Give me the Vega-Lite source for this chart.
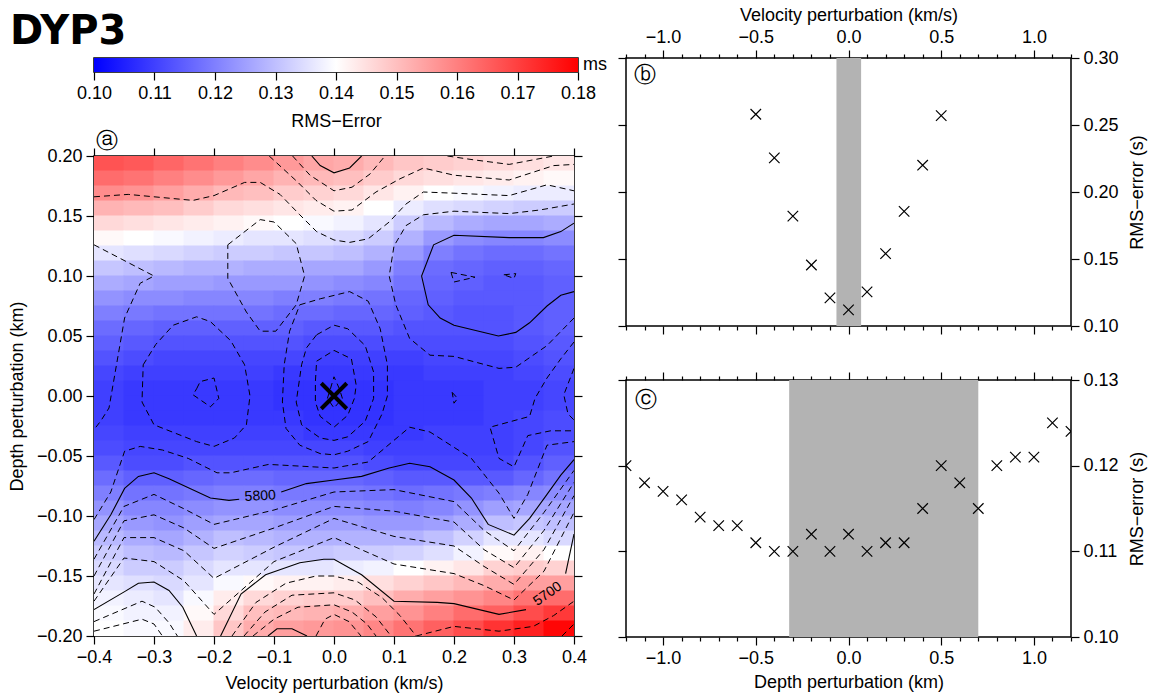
{
"$schema":"https://vega.github.io/schema/vega-lite/v6.json",
"background":"white",
"padding":{"left":7,"top":5,"right":5,"bottom":5},
"config":{"font":"Liberation Sans","view":{"stroke":"black","strokeWidth":1.5},
"axis":{"labelFont":"Liberation Sans","labelFontSize":18,"labelColor":"black","titleFont":"Liberation Sans","titleFontSize":18,"titleFontWeight":"normal","titleColor":"black","tickColor":"black","tickSize":8,"tickWidth":1.2,"domain":false,"grid":false,"labelFlush":false,"labelOverlap":false,"labelPadding":4,"labelBound":false}},
"datasets":{
"cbar":[{"lo":0.10,"hi":0.18,"unit":"ms"}],
"grid":[
{"v":-0.375,"d":0.19375,"rms":0.167},{"v":-0.325,"d":0.19375,"rms":0.166},{"v":-0.275,"d":0.19375,"rms":0.164},{"v":-0.225,"d":0.19375,"rms":0.162},{"v":-0.175,"d":0.19375,"rms":0.160},{"v":-0.125,"d":0.19375,"rms":0.158},{"v":-0.075,"d":0.19375,"rms":0.156},{"v":-0.025,"d":0.19375,"rms":0.154},{"v":0.025,"d":0.19375,"rms":0.153},{"v":0.075,"d":0.19375,"rms":0.151},{"v":0.125,"d":0.19375,"rms":0.149},{"v":0.175,"d":0.19375,"rms":0.148},{"v":0.225,"d":0.19375,"rms":0.147},{"v":0.275,"d":0.19375,"rms":0.146},{"v":0.325,"d":0.19375,"rms":0.145},{"v":0.375,"d":0.19375,"rms":0.144},
{"v":-0.375,"d":0.18125,"rms":0.163},{"v":-0.325,"d":0.18125,"rms":0.162},{"v":-0.275,"d":0.18125,"rms":0.160},{"v":-0.225,"d":0.18125,"rms":0.158},{"v":-0.175,"d":0.18125,"rms":0.156},{"v":-0.125,"d":0.18125,"rms":0.154},{"v":-0.075,"d":0.18125,"rms":0.152},{"v":-0.025,"d":0.18125,"rms":0.151},{"v":0.025,"d":0.18125,"rms":0.150},{"v":0.075,"d":0.18125,"rms":0.148},{"v":0.125,"d":0.18125,"rms":0.146},{"v":0.175,"d":0.18125,"rms":0.145},{"v":0.225,"d":0.18125,"rms":0.144},{"v":0.275,"d":0.18125,"rms":0.143},{"v":0.325,"d":0.18125,"rms":0.142},{"v":0.375,"d":0.18125,"rms":0.141},
{"v":-0.375,"d":0.16875,"rms":0.158},{"v":-0.325,"d":0.16875,"rms":0.157},{"v":-0.275,"d":0.16875,"rms":0.155},{"v":-0.225,"d":0.16875,"rms":0.153},{"v":-0.175,"d":0.16875,"rms":0.151},{"v":-0.125,"d":0.16875,"rms":0.150},{"v":-0.075,"d":0.16875,"rms":0.148},{"v":-0.025,"d":0.16875,"rms":0.147},{"v":0.025,"d":0.16875,"rms":0.146},{"v":0.075,"d":0.16875,"rms":0.144},{"v":0.125,"d":0.16875,"rms":0.142},{"v":0.175,"d":0.16875,"rms":0.140},{"v":0.225,"d":0.16875,"rms":0.139},{"v":0.275,"d":0.16875,"rms":0.138},{"v":0.325,"d":0.16875,"rms":0.137},{"v":0.375,"d":0.16875,"rms":0.137},
{"v":-0.375,"d":0.15625,"rms":0.152},{"v":-0.325,"d":0.15625,"rms":0.151},{"v":-0.275,"d":0.15625,"rms":0.150},{"v":-0.225,"d":0.15625,"rms":0.148},{"v":-0.175,"d":0.15625,"rms":0.146},{"v":-0.125,"d":0.15625,"rms":0.145},{"v":-0.075,"d":0.15625,"rms":0.144},{"v":-0.025,"d":0.15625,"rms":0.143},{"v":0.025,"d":0.15625,"rms":0.142},{"v":0.075,"d":0.15625,"rms":0.140},{"v":0.125,"d":0.15625,"rms":0.137},{"v":0.175,"d":0.15625,"rms":0.135},{"v":0.225,"d":0.15625,"rms":0.134},{"v":0.275,"d":0.15625,"rms":0.133},{"v":0.325,"d":0.15625,"rms":0.132},{"v":0.375,"d":0.15625,"rms":0.132},
{"v":-0.375,"d":0.14375,"rms":0.146},{"v":-0.325,"d":0.14375,"rms":0.145},{"v":-0.275,"d":0.14375,"rms":0.144},{"v":-0.225,"d":0.14375,"rms":0.143},{"v":-0.175,"d":0.14375,"rms":0.142},{"v":-0.125,"d":0.14375,"rms":0.141},{"v":-0.075,"d":0.14375,"rms":0.140},{"v":-0.025,"d":0.14375,"rms":0.139},{"v":0.025,"d":0.14375,"rms":0.138},{"v":0.075,"d":0.14375,"rms":0.136},{"v":0.125,"d":0.14375,"rms":0.132},{"v":0.175,"d":0.14375,"rms":0.129},{"v":0.225,"d":0.14375,"rms":0.127},{"v":0.275,"d":0.14375,"rms":0.126},{"v":0.325,"d":0.14375,"rms":0.126},{"v":0.375,"d":0.14375,"rms":0.127},
{"v":-0.375,"d":0.13125,"rms":0.141},{"v":-0.325,"d":0.13125,"rms":0.140},{"v":-0.275,"d":0.13125,"rms":0.139},{"v":-0.225,"d":0.13125,"rms":0.138},{"v":-0.175,"d":0.13125,"rms":0.137},{"v":-0.125,"d":0.13125,"rms":0.136},{"v":-0.075,"d":0.13125,"rms":0.136},{"v":-0.025,"d":0.13125,"rms":0.135},{"v":0.025,"d":0.13125,"rms":0.134},{"v":0.075,"d":0.13125,"rms":0.132},{"v":0.125,"d":0.13125,"rms":0.128},{"v":0.175,"d":0.13125,"rms":0.124},{"v":0.225,"d":0.13125,"rms":0.122},{"v":0.275,"d":0.13125,"rms":0.121},{"v":0.325,"d":0.13125,"rms":0.121},{"v":0.375,"d":0.13125,"rms":0.122},
{"v":-0.375,"d":0.11875,"rms":0.136},{"v":-0.325,"d":0.11875,"rms":0.135},{"v":-0.275,"d":0.11875,"rms":0.134},{"v":-0.225,"d":0.11875,"rms":0.133},{"v":-0.175,"d":0.11875,"rms":0.132},{"v":-0.125,"d":0.11875,"rms":0.132},{"v":-0.075,"d":0.11875,"rms":0.131},{"v":-0.025,"d":0.11875,"rms":0.131},{"v":0.025,"d":0.11875,"rms":0.130},{"v":0.075,"d":0.11875,"rms":0.128},{"v":0.125,"d":0.11875,"rms":0.124},{"v":0.175,"d":0.11875,"rms":0.120},{"v":0.225,"d":0.11875,"rms":0.118},{"v":0.275,"d":0.11875,"rms":0.117},{"v":0.325,"d":0.11875,"rms":0.117},{"v":0.375,"d":0.11875,"rms":0.118},
{"v":-0.375,"d":0.10625,"rms":0.131},{"v":-0.325,"d":0.10625,"rms":0.130},{"v":-0.275,"d":0.10625,"rms":0.129},{"v":-0.225,"d":0.10625,"rms":0.128},{"v":-0.175,"d":0.10625,"rms":0.128},{"v":-0.125,"d":0.10625,"rms":0.127},{"v":-0.075,"d":0.10625,"rms":0.127},{"v":-0.025,"d":0.10625,"rms":0.126},{"v":0.025,"d":0.10625,"rms":0.126},{"v":0.075,"d":0.10625,"rms":0.124},{"v":0.125,"d":0.10625,"rms":0.120},{"v":0.175,"d":0.10625,"rms":0.117},{"v":0.225,"d":0.10625,"rms":0.116},{"v":0.275,"d":0.10625,"rms":0.115},{"v":0.325,"d":0.10625,"rms":0.115},{"v":0.375,"d":0.10625,"rms":0.116},
{"v":-0.375,"d":0.09375,"rms":0.127},{"v":-0.325,"d":0.09375,"rms":0.126},{"v":-0.275,"d":0.09375,"rms":0.125},{"v":-0.225,"d":0.09375,"rms":0.125},{"v":-0.175,"d":0.09375,"rms":0.124},{"v":-0.125,"d":0.09375,"rms":0.124},{"v":-0.075,"d":0.09375,"rms":0.124},{"v":-0.025,"d":0.09375,"rms":0.123},{"v":0.025,"d":0.09375,"rms":0.122},{"v":0.075,"d":0.09375,"rms":0.121},{"v":0.125,"d":0.09375,"rms":0.118},{"v":0.175,"d":0.09375,"rms":0.116},{"v":0.225,"d":0.09375,"rms":0.115},{"v":0.275,"d":0.09375,"rms":0.114},{"v":0.325,"d":0.09375,"rms":0.114},{"v":0.375,"d":0.09375,"rms":0.115},
{"v":-0.375,"d":0.08125,"rms":0.123},{"v":-0.325,"d":0.08125,"rms":0.122},{"v":-0.275,"d":0.08125,"rms":0.122},{"v":-0.225,"d":0.08125,"rms":0.121},{"v":-0.175,"d":0.08125,"rms":0.121},{"v":-0.125,"d":0.08125,"rms":0.121},{"v":-0.075,"d":0.08125,"rms":0.120},{"v":-0.025,"d":0.08125,"rms":0.120},{"v":0.025,"d":0.08125,"rms":0.119},{"v":0.075,"d":0.08125,"rms":0.118},{"v":0.125,"d":0.08125,"rms":0.116},{"v":0.175,"d":0.08125,"rms":0.115},{"v":0.225,"d":0.08125,"rms":0.114},{"v":0.275,"d":0.08125,"rms":0.114},{"v":0.325,"d":0.08125,"rms":0.114},{"v":0.375,"d":0.08125,"rms":0.115},
{"v":-0.375,"d":0.06875,"rms":0.120},{"v":-0.325,"d":0.06875,"rms":0.119},{"v":-0.275,"d":0.06875,"rms":0.118},{"v":-0.225,"d":0.06875,"rms":0.118},{"v":-0.175,"d":0.06875,"rms":0.118},{"v":-0.125,"d":0.06875,"rms":0.118},{"v":-0.075,"d":0.06875,"rms":0.117},{"v":-0.025,"d":0.06875,"rms":0.117},{"v":0.025,"d":0.06875,"rms":0.116},{"v":0.075,"d":0.06875,"rms":0.116},{"v":0.125,"d":0.06875,"rms":0.115},{"v":0.175,"d":0.06875,"rms":0.114},{"v":0.225,"d":0.06875,"rms":0.113},{"v":0.275,"d":0.06875,"rms":0.113},{"v":0.325,"d":0.06875,"rms":0.114},{"v":0.375,"d":0.06875,"rms":0.115},
{"v":-0.375,"d":0.05625,"rms":0.117},{"v":-0.325,"d":0.05625,"rms":0.116},{"v":-0.275,"d":0.05625,"rms":0.115},{"v":-0.225,"d":0.05625,"rms":0.115},{"v":-0.175,"d":0.05625,"rms":0.115},{"v":-0.125,"d":0.05625,"rms":0.115},{"v":-0.075,"d":0.05625,"rms":0.115},{"v":-0.025,"d":0.05625,"rms":0.114},{"v":0.025,"d":0.05625,"rms":0.114},{"v":0.075,"d":0.05625,"rms":0.114},{"v":0.125,"d":0.05625,"rms":0.113},{"v":0.175,"d":0.05625,"rms":0.113},{"v":0.225,"d":0.05625,"rms":0.113},{"v":0.275,"d":0.05625,"rms":0.113},{"v":0.325,"d":0.05625,"rms":0.114},{"v":0.375,"d":0.05625,"rms":0.115},
{"v":-0.375,"d":0.04375,"rms":0.115},{"v":-0.325,"d":0.04375,"rms":0.114},{"v":-0.275,"d":0.04375,"rms":0.113},{"v":-0.225,"d":0.04375,"rms":0.113},{"v":-0.175,"d":0.04375,"rms":0.113},{"v":-0.125,"d":0.04375,"rms":0.113},{"v":-0.075,"d":0.04375,"rms":0.113},{"v":-0.025,"d":0.04375,"rms":0.112},{"v":0.025,"d":0.04375,"rms":0.112},{"v":0.075,"d":0.04375,"rms":0.112},{"v":0.125,"d":0.04375,"rms":0.112},{"v":0.175,"d":0.04375,"rms":0.112},{"v":0.225,"d":0.04375,"rms":0.112},{"v":0.275,"d":0.04375,"rms":0.112},{"v":0.325,"d":0.04375,"rms":0.113},{"v":0.375,"d":0.04375,"rms":0.114},
{"v":-0.375,"d":0.03125,"rms":0.113},{"v":-0.325,"d":0.03125,"rms":0.112},{"v":-0.275,"d":0.03125,"rms":0.111},{"v":-0.225,"d":0.03125,"rms":0.111},{"v":-0.175,"d":0.03125,"rms":0.111},{"v":-0.125,"d":0.03125,"rms":0.111},{"v":-0.075,"d":0.03125,"rms":0.111},{"v":-0.025,"d":0.03125,"rms":0.110},{"v":0.025,"d":0.03125,"rms":0.110},{"v":0.075,"d":0.03125,"rms":0.110},{"v":0.125,"d":0.03125,"rms":0.110},{"v":0.175,"d":0.03125,"rms":0.111},{"v":0.225,"d":0.03125,"rms":0.111},{"v":0.275,"d":0.03125,"rms":0.111},{"v":0.325,"d":0.03125,"rms":0.112},{"v":0.375,"d":0.03125,"rms":0.113},
{"v":-0.375,"d":0.01875,"rms":0.111},{"v":-0.325,"d":0.01875,"rms":0.110},{"v":-0.275,"d":0.01875,"rms":0.110},{"v":-0.225,"d":0.01875,"rms":0.110},{"v":-0.175,"d":0.01875,"rms":0.110},{"v":-0.125,"d":0.01875,"rms":0.110},{"v":-0.075,"d":0.01875,"rms":0.109},{"v":-0.025,"d":0.01875,"rms":0.109},{"v":0.025,"d":0.01875,"rms":0.109},{"v":0.075,"d":0.01875,"rms":0.109},{"v":0.125,"d":0.01875,"rms":0.109},{"v":0.175,"d":0.01875,"rms":0.110},{"v":0.225,"d":0.01875,"rms":0.110},{"v":0.275,"d":0.01875,"rms":0.110},{"v":0.325,"d":0.01875,"rms":0.111},{"v":0.375,"d":0.01875,"rms":0.112},
{"v":-0.375,"d":0.00625,"rms":0.110},{"v":-0.325,"d":0.00625,"rms":0.109},{"v":-0.275,"d":0.00625,"rms":0.109},{"v":-0.225,"d":0.00625,"rms":0.109},{"v":-0.175,"d":0.00625,"rms":0.109},{"v":-0.125,"d":0.00625,"rms":0.109},{"v":-0.075,"d":0.00625,"rms":0.108},{"v":-0.025,"d":0.00625,"rms":0.108},{"v":0.025,"d":0.00625,"rms":0.108},{"v":0.075,"d":0.00625,"rms":0.108},{"v":0.125,"d":0.00625,"rms":0.109},{"v":0.175,"d":0.00625,"rms":0.109},{"v":0.225,"d":0.00625,"rms":0.109},{"v":0.275,"d":0.00625,"rms":0.110},{"v":0.325,"d":0.00625,"rms":0.110},{"v":0.375,"d":0.00625,"rms":0.111},
{"v":-0.375,"d":-0.00625,"rms":0.110},{"v":-0.325,"d":-0.00625,"rms":0.109},{"v":-0.275,"d":-0.00625,"rms":0.109},{"v":-0.225,"d":-0.00625,"rms":0.109},{"v":-0.175,"d":-0.00625,"rms":0.109},{"v":-0.125,"d":-0.00625,"rms":0.109},{"v":-0.075,"d":-0.00625,"rms":0.108},{"v":-0.025,"d":-0.00625,"rms":0.108},{"v":0.025,"d":-0.00625,"rms":0.108},{"v":0.075,"d":-0.00625,"rms":0.108},{"v":0.125,"d":-0.00625,"rms":0.109},{"v":0.175,"d":-0.00625,"rms":0.109},{"v":0.225,"d":-0.00625,"rms":0.109},{"v":0.275,"d":-0.00625,"rms":0.110},{"v":0.325,"d":-0.00625,"rms":0.110},{"v":0.375,"d":-0.00625,"rms":0.111},
{"v":-0.375,"d":-0.01875,"rms":0.110},{"v":-0.325,"d":-0.01875,"rms":0.109},{"v":-0.275,"d":-0.01875,"rms":0.109},{"v":-0.225,"d":-0.01875,"rms":0.109},{"v":-0.175,"d":-0.01875,"rms":0.109},{"v":-0.125,"d":-0.01875,"rms":0.109},{"v":-0.075,"d":-0.01875,"rms":0.109},{"v":-0.025,"d":-0.01875,"rms":0.108},{"v":0.025,"d":-0.01875,"rms":0.108},{"v":0.075,"d":-0.01875,"rms":0.108},{"v":0.125,"d":-0.01875,"rms":0.109},{"v":0.175,"d":-0.01875,"rms":0.109},{"v":0.225,"d":-0.01875,"rms":0.109},{"v":0.275,"d":-0.01875,"rms":0.110},{"v":0.325,"d":-0.01875,"rms":0.111},{"v":0.375,"d":-0.01875,"rms":0.112},
{"v":-0.375,"d":-0.03125,"rms":0.111},{"v":-0.325,"d":-0.03125,"rms":0.110},{"v":-0.275,"d":-0.03125,"rms":0.110},{"v":-0.225,"d":-0.03125,"rms":0.110},{"v":-0.175,"d":-0.03125,"rms":0.110},{"v":-0.125,"d":-0.03125,"rms":0.110},{"v":-0.075,"d":-0.03125,"rms":0.110},{"v":-0.025,"d":-0.03125,"rms":0.109},{"v":0.025,"d":-0.03125,"rms":0.109},{"v":0.075,"d":-0.03125,"rms":0.109},{"v":0.125,"d":-0.03125,"rms":0.109},{"v":0.175,"d":-0.03125,"rms":0.110},{"v":0.225,"d":-0.03125,"rms":0.110},{"v":0.275,"d":-0.03125,"rms":0.110},{"v":0.325,"d":-0.03125,"rms":0.111},{"v":0.375,"d":-0.03125,"rms":0.112},
{"v":-0.375,"d":-0.04375,"rms":0.112},{"v":-0.325,"d":-0.04375,"rms":0.111},{"v":-0.275,"d":-0.04375,"rms":0.111},{"v":-0.225,"d":-0.04375,"rms":0.111},{"v":-0.175,"d":-0.04375,"rms":0.111},{"v":-0.125,"d":-0.04375,"rms":0.111},{"v":-0.075,"d":-0.04375,"rms":0.111},{"v":-0.025,"d":-0.04375,"rms":0.111},{"v":0.025,"d":-0.04375,"rms":0.111},{"v":0.075,"d":-0.04375,"rms":0.110},{"v":0.125,"d":-0.04375,"rms":0.110},{"v":0.175,"d":-0.04375,"rms":0.110},{"v":0.225,"d":-0.04375,"rms":0.110},{"v":0.275,"d":-0.04375,"rms":0.110},{"v":0.325,"d":-0.04375,"rms":0.111},{"v":0.375,"d":-0.04375,"rms":0.113},
{"v":-0.375,"d":-0.05625,"rms":0.114},{"v":-0.325,"d":-0.05625,"rms":0.112},{"v":-0.275,"d":-0.05625,"rms":0.112},{"v":-0.225,"d":-0.05625,"rms":0.113},{"v":-0.175,"d":-0.05625,"rms":0.113},{"v":-0.125,"d":-0.05625,"rms":0.113},{"v":-0.075,"d":-0.05625,"rms":0.113},{"v":-0.025,"d":-0.05625,"rms":0.113},{"v":0.025,"d":-0.05625,"rms":0.113},{"v":0.075,"d":-0.05625,"rms":0.112},{"v":0.125,"d":-0.05625,"rms":0.111},{"v":0.175,"d":-0.05625,"rms":0.111},{"v":0.225,"d":-0.05625,"rms":0.111},{"v":0.275,"d":-0.05625,"rms":0.111},{"v":0.325,"d":-0.05625,"rms":0.113},{"v":0.375,"d":-0.05625,"rms":0.115},
{"v":-0.375,"d":-0.06875,"rms":0.117},{"v":-0.325,"d":-0.06875,"rms":0.115},{"v":-0.275,"d":-0.06875,"rms":0.115},{"v":-0.225,"d":-0.06875,"rms":0.116},{"v":-0.175,"d":-0.06875,"rms":0.117},{"v":-0.125,"d":-0.06875,"rms":0.117},{"v":-0.075,"d":-0.06875,"rms":0.116},{"v":-0.025,"d":-0.06875,"rms":0.116},{"v":0.025,"d":-0.06875,"rms":0.116},{"v":0.075,"d":-0.06875,"rms":0.115},{"v":0.125,"d":-0.06875,"rms":0.114},{"v":0.175,"d":-0.06875,"rms":0.114},{"v":0.225,"d":-0.06875,"rms":0.114},{"v":0.275,"d":-0.06875,"rms":0.114},{"v":0.325,"d":-0.06875,"rms":0.116},{"v":0.375,"d":-0.06875,"rms":0.118},
{"v":-0.375,"d":-0.08125,"rms":0.120},{"v":-0.325,"d":-0.08125,"rms":0.118},{"v":-0.275,"d":-0.08125,"rms":0.118},{"v":-0.225,"d":-0.08125,"rms":0.119},{"v":-0.175,"d":-0.08125,"rms":0.120},{"v":-0.125,"d":-0.08125,"rms":0.120},{"v":-0.075,"d":-0.08125,"rms":0.119},{"v":-0.025,"d":-0.08125,"rms":0.119},{"v":0.025,"d":-0.08125,"rms":0.119},{"v":0.075,"d":-0.08125,"rms":0.118},{"v":0.125,"d":-0.08125,"rms":0.117},{"v":0.175,"d":-0.08125,"rms":0.118},{"v":0.225,"d":-0.08125,"rms":0.119},{"v":0.275,"d":-0.08125,"rms":0.120},{"v":0.325,"d":-0.08125,"rms":0.121},{"v":0.375,"d":-0.08125,"rms":0.122},
{"v":-0.375,"d":-0.09375,"rms":0.123},{"v":-0.325,"d":-0.09375,"rms":0.121},{"v":-0.275,"d":-0.09375,"rms":0.121},{"v":-0.225,"d":-0.09375,"rms":0.122},{"v":-0.175,"d":-0.09375,"rms":0.123},{"v":-0.125,"d":-0.09375,"rms":0.123},{"v":-0.075,"d":-0.09375,"rms":0.122},{"v":-0.025,"d":-0.09375,"rms":0.122},{"v":0.025,"d":-0.09375,"rms":0.122},{"v":0.075,"d":-0.09375,"rms":0.121},{"v":0.125,"d":-0.09375,"rms":0.120},{"v":0.175,"d":-0.09375,"rms":0.121},{"v":0.225,"d":-0.09375,"rms":0.123},{"v":0.275,"d":-0.09375,"rms":0.125},{"v":0.325,"d":-0.09375,"rms":0.126},{"v":0.375,"d":-0.09375,"rms":0.126},
{"v":-0.375,"d":-0.10625,"rms":0.126},{"v":-0.325,"d":-0.10625,"rms":0.124},{"v":-0.275,"d":-0.10625,"rms":0.123},{"v":-0.225,"d":-0.10625,"rms":0.125},{"v":-0.175,"d":-0.10625,"rms":0.126},{"v":-0.125,"d":-0.10625,"rms":0.126},{"v":-0.075,"d":-0.10625,"rms":0.125},{"v":-0.025,"d":-0.10625,"rms":0.125},{"v":0.025,"d":-0.10625,"rms":0.125},{"v":0.075,"d":-0.10625,"rms":0.124},{"v":0.125,"d":-0.10625,"rms":0.124},{"v":0.175,"d":-0.10625,"rms":0.125},{"v":0.225,"d":-0.10625,"rms":0.127},{"v":0.275,"d":-0.10625,"rms":0.130},{"v":0.325,"d":-0.10625,"rms":0.131},{"v":0.375,"d":-0.10625,"rms":0.130},
{"v":-0.375,"d":-0.11875,"rms":0.129},{"v":-0.325,"d":-0.11875,"rms":0.127},{"v":-0.275,"d":-0.11875,"rms":0.126},{"v":-0.225,"d":-0.11875,"rms":0.128},{"v":-0.175,"d":-0.11875,"rms":0.130},{"v":-0.125,"d":-0.11875,"rms":0.129},{"v":-0.075,"d":-0.11875,"rms":0.128},{"v":-0.025,"d":-0.11875,"rms":0.128},{"v":0.025,"d":-0.11875,"rms":0.128},{"v":0.075,"d":-0.11875,"rms":0.128},{"v":0.125,"d":-0.11875,"rms":0.128},{"v":0.175,"d":-0.11875,"rms":0.130},{"v":0.225,"d":-0.11875,"rms":0.133},{"v":0.275,"d":-0.11875,"rms":0.136},{"v":0.325,"d":-0.11875,"rms":0.136},{"v":0.375,"d":-0.11875,"rms":0.134},
{"v":-0.375,"d":-0.13125,"rms":0.132},{"v":-0.325,"d":-0.13125,"rms":0.130},{"v":-0.275,"d":-0.13125,"rms":0.129},{"v":-0.225,"d":-0.13125,"rms":0.131},{"v":-0.175,"d":-0.13125,"rms":0.133},{"v":-0.125,"d":-0.13125,"rms":0.132},{"v":-0.075,"d":-0.13125,"rms":0.131},{"v":-0.025,"d":-0.13125,"rms":0.131},{"v":0.025,"d":-0.13125,"rms":0.132},{"v":0.075,"d":-0.13125,"rms":0.132},{"v":0.125,"d":-0.13125,"rms":0.133},{"v":0.175,"d":-0.13125,"rms":0.135},{"v":0.225,"d":-0.13125,"rms":0.138},{"v":0.275,"d":-0.13125,"rms":0.141},{"v":0.325,"d":-0.13125,"rms":0.142},{"v":0.375,"d":-0.13125,"rms":0.140},
{"v":-0.375,"d":-0.14375,"rms":0.134},{"v":-0.325,"d":-0.14375,"rms":0.132},{"v":-0.275,"d":-0.14375,"rms":0.132},{"v":-0.225,"d":-0.14375,"rms":0.134},{"v":-0.175,"d":-0.14375,"rms":0.136},{"v":-0.125,"d":-0.14375,"rms":0.136},{"v":-0.075,"d":-0.14375,"rms":0.136},{"v":-0.025,"d":-0.14375,"rms":0.136},{"v":0.025,"d":-0.14375,"rms":0.137},{"v":0.075,"d":-0.14375,"rms":0.138},{"v":0.125,"d":-0.14375,"rms":0.140},{"v":0.175,"d":-0.14375,"rms":0.142},{"v":0.225,"d":-0.14375,"rms":0.144},{"v":0.275,"d":-0.14375,"rms":0.147},{"v":0.325,"d":-0.14375,"rms":0.148},{"v":0.375,"d":-0.14375,"rms":0.147},
{"v":-0.375,"d":-0.15625,"rms":0.136},{"v":-0.325,"d":-0.15625,"rms":0.135},{"v":-0.275,"d":-0.15625,"rms":0.134},{"v":-0.225,"d":-0.15625,"rms":0.136},{"v":-0.175,"d":-0.15625,"rms":0.139},{"v":-0.125,"d":-0.15625,"rms":0.141},{"v":-0.075,"d":-0.15625,"rms":0.142},{"v":-0.025,"d":-0.15625,"rms":0.142},{"v":0.025,"d":-0.15625,"rms":0.143},{"v":0.075,"d":-0.15625,"rms":0.145},{"v":0.125,"d":-0.15625,"rms":0.147},{"v":0.175,"d":-0.15625,"rms":0.149},{"v":0.225,"d":-0.15625,"rms":0.151},{"v":0.275,"d":-0.15625,"rms":0.153},{"v":0.325,"d":-0.15625,"rms":0.155},{"v":0.375,"d":-0.15625,"rms":0.155},
{"v":-0.375,"d":-0.16875,"rms":0.138},{"v":-0.325,"d":-0.16875,"rms":0.137},{"v":-0.275,"d":-0.16875,"rms":0.136},{"v":-0.225,"d":-0.16875,"rms":0.139},{"v":-0.175,"d":-0.16875,"rms":0.143},{"v":-0.125,"d":-0.16875,"rms":0.146},{"v":-0.075,"d":-0.16875,"rms":0.147},{"v":-0.025,"d":-0.16875,"rms":0.148},{"v":0.025,"d":-0.16875,"rms":0.148},{"v":0.075,"d":-0.16875,"rms":0.150},{"v":0.125,"d":-0.16875,"rms":0.153},{"v":0.175,"d":-0.16875,"rms":0.155},{"v":0.225,"d":-0.16875,"rms":0.157},{"v":0.275,"d":-0.16875,"rms":0.159},{"v":0.325,"d":-0.16875,"rms":0.162},{"v":0.375,"d":-0.16875,"rms":0.163},
{"v":-0.375,"d":-0.18125,"rms":0.139},{"v":-0.325,"d":-0.18125,"rms":0.138},{"v":-0.275,"d":-0.18125,"rms":0.138},{"v":-0.225,"d":-0.18125,"rms":0.141},{"v":-0.175,"d":-0.18125,"rms":0.146},{"v":-0.125,"d":-0.18125,"rms":0.150},{"v":-0.075,"d":-0.18125,"rms":0.151},{"v":-0.025,"d":-0.18125,"rms":0.152},{"v":0.025,"d":-0.18125,"rms":0.153},{"v":0.075,"d":-0.18125,"rms":0.155},{"v":0.125,"d":-0.18125,"rms":0.157},{"v":0.175,"d":-0.18125,"rms":0.160},{"v":0.225,"d":-0.18125,"rms":0.163},{"v":0.275,"d":-0.18125,"rms":0.165},{"v":0.325,"d":-0.18125,"rms":0.168},{"v":0.375,"d":-0.18125,"rms":0.171},
{"v":-0.375,"d":-0.19375,"rms":0.140},{"v":-0.325,"d":-0.19375,"rms":0.139},{"v":-0.275,"d":-0.19375,"rms":0.139},{"v":-0.225,"d":-0.19375,"rms":0.143},{"v":-0.175,"d":-0.19375,"rms":0.149},{"v":-0.125,"d":-0.19375,"rms":0.153},{"v":-0.075,"d":-0.19375,"rms":0.155},{"v":-0.025,"d":-0.19375,"rms":0.156},{"v":0.025,"d":-0.19375,"rms":0.157},{"v":0.075,"d":-0.19375,"rms":0.159},{"v":0.125,"d":-0.19375,"rms":0.162},{"v":0.175,"d":-0.19375,"rms":0.165},{"v":0.225,"d":-0.19375,"rms":0.168},{"v":0.275,"d":-0.19375,"rms":0.172},{"v":0.325,"d":-0.19375,"rms":0.175},{"v":0.375,"d":-0.19375,"rms":0.179}
],
"cmajor":[
{"c":"T1","v":-0.037,"d":0.2},{"c":"T1","v":-0.023,"d":0.192},{"c":"T1","v":0,"d":0.186},{"c":"T1","v":0.026,"d":0.19},{"c":"T1","v":0.046,"d":0.2},
{"c":"SU","v":0.4,"d":0.144},{"c":"SU","v":0.378,"d":0.137},{"c":"SU","v":0.349,"d":0.132},{"c":"SU","v":0.292,"d":0.132},{"c":"SU","v":0.2,"d":0.134},{"c":"SU","v":0.166,"d":0.126},{"c":"SU","v":0.146,"d":0.1},{"c":"SU","v":0.157,"d":0.076},{"c":"SU","v":0.177,"d":0.065},{"c":"SU","v":0.2,"d":0.059},{"c":"SU","v":0.274,"d":0.05},{"c":"SU","v":0.303,"d":0.053},{"c":"SU","v":0.326,"d":0.061},{"c":"SU","v":0.355,"d":0.075},{"c":"SU","v":0.378,"d":0.084},{"c":"SU","v":0.4,"d":0.087},
{"c":"M58a","v":-0.4,"d":-0.121},{"c":"M58a","v":-0.372,"d":-0.099},{"c":"M58a","v":-0.349,"d":-0.077},{"c":"M58a","v":-0.326,"d":-0.067},{"c":"M58a","v":-0.3,"d":-0.064},{"c":"M58a","v":-0.275,"d":-0.069},{"c":"M58a","v":-0.24,"d":-0.077},{"c":"M58a","v":-0.206,"d":-0.085},{"c":"M58a","v":-0.175,"d":-0.087},{"c":"M58a","v":-0.158,"d":-0.086},
{"c":"M58b","v":-0.088,"d":-0.08},{"c":"M58b","v":-0.046,"d":-0.073},{"c":"M58b","v":0,"d":-0.07},{"c":"M58b","v":0.046,"d":-0.067},{"c":"M58b","v":0.092,"d":-0.06},{"c":"M58b","v":0.126,"d":-0.056},{"c":"M58b","v":0.16,"d":-0.059},{"c":"M58b","v":0.2,"d":-0.07},{"c":"M58b","v":0.229,"d":-0.085},{"c":"M58b","v":0.257,"d":-0.107},{"c":"M58b","v":0.3,"d":-0.116},{"c":"M58b","v":0.326,"d":-0.102},{"c":"M58b","v":0.355,"d":-0.082},{"c":"M58b","v":0.378,"d":-0.066},{"c":"M58b","v":0.4,"d":-0.053},
{"c":"L1","v":-0.4,"d":-0.178},{"c":"L1","v":-0.349,"d":-0.163},{"c":"L1","v":-0.326,"d":-0.156},{"c":"L1","v":-0.3,"d":-0.155},{"c":"L1","v":-0.275,"d":-0.162},{"c":"L1","v":-0.252,"d":-0.176},{"c":"L1","v":-0.229,"d":-0.2},
{"c":"L2a","v":-0.189,"d":-0.2},{"c":"L2a","v":-0.155,"d":-0.165},{"c":"L2a","v":-0.114,"d":-0.149},{"c":"L2a","v":-0.057,"d":-0.139},{"c":"L2a","v":-0.017,"d":-0.136},{"c":"L2a","v":0,"d":-0.136},{"c":"L2a","v":0.046,"d":-0.149},{"c":"L2a","v":0.1,"d":-0.171},{"c":"L2a","v":0.172,"d":-0.172},{"c":"L2a","v":0.2,"d":-0.173},{"c":"L2a","v":0.275,"d":-0.182},{"c":"L2a","v":0.32,"d":-0.178},
{"c":"L2b","v":0.386,"d":-0.148},{"c":"L2b","v":0.4,"d":-0.115},
{"c":"A5","v":-0.11,"d":-0.2},{"c":"A5","v":-0.095,"d":-0.194},{"c":"A5","v":-0.07,"d":-0.194},{"c":"A5","v":-0.045,"d":-0.2}
],
"cminor":[
{"c":"T2","v":-0.069,"d":0.2},{"c":"T2","v":-0.04,"d":0.184},{"c":"T2","v":0,"d":0.171},{"c":"T2","v":0.03,"d":0.174},{"c":"T2","v":0.06,"d":0.185},{"c":"T2","v":0.085,"d":0.2},
{"c":"T3","v":-0.108,"d":0.2},{"c":"T3","v":-0.06,"d":0.178},{"c":"T3","v":-0.03,"d":0.163},{"c":"T3","v":0,"d":0.154},{"c":"T3","v":0.03,"d":0.155},{"c":"T3","v":0.07,"d":0.17},{"c":"T3","v":0.11,"d":0.181},{"c":"T3","v":0.149,"d":0.19},{"c":"T3","v":0.2,"d":0.184},{"c":"T3","v":0.292,"d":0.18},{"c":"T3","v":0.366,"d":0.192},{"c":"T3","v":0.4,"d":0.193},
{"c":"Ta","v":-0.4,"d":0.166},{"c":"Ta","v":-0.343,"d":0.168},{"c":"Ta","v":-0.235,"d":0.163},{"c":"Ta","v":-0.2,"d":0.167},{"c":"Ta","v":-0.149,"d":0.178},{"c":"Ta","v":-0.123,"d":0.178},{"c":"Ta","v":-0.09,"d":0.168},{"c":"Ta","v":-0.057,"d":0.151},{"c":"Ta","v":-0.029,"d":0.137},{"c":"Ta","v":0,"d":0.13},{"c":"Ta","v":0.026,"d":0.128},{"c":"Ta","v":0.057,"d":0.131},{"c":"Ta","v":0.092,"d":0.145},{"c":"Ta","v":0.12,"d":0.16},{"c":"Ta","v":0.149,"d":0.17},{"c":"Ta","v":0.2,"d":0.169},{"c":"Ta","v":0.292,"d":0.167},{"c":"Ta","v":0.355,"d":0.176},{"c":"Ta","v":0.4,"d":0.171},
{"c":"R1","v":0.189,"d":0.2},{"c":"R1","v":0.23,"d":0.197},{"c":"R1","v":0.292,"d":0.193},{"c":"R1","v":0.366,"d":0.2},
{"c":"R4","v":0.4,"d":0.065},{"c":"R4","v":0.355,"d":0.042},{"c":"R4","v":0.303,"d":0.024},{"c":"R4","v":0.275,"d":0.023},{"c":"R4","v":0.2,"d":0.033},{"c":"R4","v":0.16,"d":0.034},{"c":"R4","v":0.126,"d":0.048},{"c":"R4","v":0.103,"d":0.076},{"c":"R4","v":0.092,"d":0.1},{"c":"R4","v":0.1,"d":0.125},{"c":"R4","v":0.12,"d":0.142},{"c":"R4","v":0.149,"d":0.151},{"c":"R4","v":0.2,"d":0.154},{"c":"R4","v":0.292,"d":0.152},{"c":"R4","v":0.343,"d":0.155},{"c":"R4","v":0.4,"d":0.16},
{"c":"Tr1","v":0.195,"d":0.103},{"c":"Tr1","v":0.235,"d":0.099},{"c":"Tr1","v":0.2,"d":0.095},{"c":"Tr1","v":0.195,"d":0.103},
{"c":"Tr2","v":0.283,"d":0.101},{"c":"Tr2","v":0.303,"d":0.102},{"c":"Tr2","v":0.3,"d":0.098},{"c":"Tr2","v":0.283,"d":0.101},
{"c":"Tr3","v":0.197,"d":0.003},{"c":"Tr3","v":0.206,"d":-0.002},{"c":"Tr3","v":0.2,"d":-0.006},{"c":"Tr3","v":0.197,"d":0.003},
{"c":"LV","v":-0.4,"d":0.126},{"c":"LV","v":-0.3,"d":0.1},{"c":"LV","v":-0.323,"d":0.094},{"c":"LV","v":-0.349,"d":0.065},{"c":"LV","v":-0.375,"d":-0.01},{"c":"LV","v":-0.389,"d":-0.021},{"c":"LV","v":-0.4,"d":-0.028},
{"c":"P1","v":-0.177,"d":0.126},{"c":"P1","v":-0.123,"d":0.147},{"c":"P1","v":-0.1,"d":0.145},{"c":"P1","v":-0.063,"d":0.127},{"c":"P1","v":-0.049,"d":0.1},{"c":"P1","v":-0.063,"d":0.076},{"c":"P1","v":-0.097,"d":0.054},{"c":"P1","v":-0.123,"d":0.054},{"c":"P1","v":-0.146,"d":0.07},{"c":"P1","v":-0.177,"d":0.098},{"c":"P1","v":-0.177,"d":0.126},
{"c":"P2","v":-0.318,"d":0.026},{"c":"P2","v":-0.297,"d":0.043},{"c":"P2","v":-0.268,"d":0.059},{"c":"P2","v":-0.229,"d":0.066},{"c":"P2","v":-0.206,"d":0.062},{"c":"P2","v":-0.172,"d":0.046},{"c":"P2","v":-0.149,"d":0.026},{"c":"P2","v":-0.14,"d":0.0},{"c":"P2","v":-0.146,"d":-0.024},{"c":"P2","v":-0.166,"d":-0.035},{"c":"P2","v":-0.2,"d":-0.042},{"c":"P2","v":-0.229,"d":-0.038},{"c":"P2","v":-0.3,"d":-0.024},{"c":"P2","v":-0.32,"d":-0.005},{"c":"P2","v":-0.318,"d":0.026},
{"c":"P3","v":-0.229,"d":0.006},{"c":"P3","v":-0.223,"d":0.012},{"c":"P3","v":-0.2,"d":0.015},{"c":"P3","v":-0.192,"d":-0.002},{"c":"P3","v":-0.206,"d":-0.009},{"c":"P3","v":-0.235,"d":0.001},{"c":"P3","v":-0.229,"d":0.006},
{"c":"C1","v":-0.057,"d":0.076},{"c":"C1","v":-0.023,"d":0.081},{"c":"C1","v":0.026,"d":0.087},{"c":"C1","v":0.057,"d":0.079},{"c":"C1","v":0.077,"d":0.056},{"c":"C1","v":0.089,"d":0.026},{"c":"C1","v":0.089,"d":0.0},{"c":"C1","v":0.08,"d":-0.015},{"c":"C1","v":0.057,"d":-0.038},{"c":"C1","v":0.023,"d":-0.046},{"c":"C1","v":0,"d":-0.049},{"c":"C1","v":-0.023,"d":-0.048},{"c":"C1","v":-0.057,"d":-0.041},{"c":"C1","v":-0.08,"d":-0.027},{"c":"C1","v":-0.086,"d":-0.005},{"c":"C1","v":-0.083,"d":0.026},{"c":"C1","v":-0.074,"d":0.054},{"c":"C1","v":-0.057,"d":0.076},
{"c":"C2","v":-0.029,"d":0.051},{"c":"C2","v":0,"d":0.059},{"c":"C2","v":0.023,"d":0.056},{"c":"C2","v":0.052,"d":0.042},{"c":"C2","v":0.066,"d":0.02},{"c":"C2","v":0.066,"d":-0.002},{"c":"C2","v":0.052,"d":-0.021},{"c":"C2","v":0.023,"d":-0.034},{"c":"C2","v":0,"d":-0.037},{"c":"C2","v":-0.023,"d":-0.035},{"c":"C2","v":-0.054,"d":-0.024},{"c":"C2","v":-0.063,"d":-0.005},{"c":"C2","v":-0.054,"d":0.026},{"c":"C2","v":-0.046,"d":0.04},{"c":"C2","v":-0.029,"d":0.051},
{"c":"C3","v":-0.029,"d":0.029},{"c":"C3","v":0,"d":0.038},{"c":"C3","v":0.029,"d":0.031},{"c":"C3","v":0.037,"d":0.009},{"c":"C3","v":0.034,"d":-0.002},{"c":"C3","v":0.023,"d":-0.016},{"c":"C3","v":0,"d":-0.026},{"c":"C3","v":-0.023,"d":-0.017},{"c":"C3","v":-0.031,"d":-0.005},{"c":"C3","v":-0.031,"d":0.012},{"c":"C3","v":-0.029,"d":0.029},
{"c":"C4","v":-0.006,"d":0.006},{"c":"C4","v":0,"d":0.016},{"c":"C4","v":0.009,"d":0.006},{"c":"C4","v":0.014,"d":-0.002},{"c":"C4","v":0,"d":-0.01},{"c":"C4","v":-0.011,"d":-0.002},{"c":"C4","v":-0.006,"d":0.006},
{"c":"F1","v":0.4,"d":0.045},{"c":"F1","v":0.378,"d":0.031},{"c":"F1","v":0.355,"d":0.015},{"c":"F1","v":0.335,"d":-0.002},{"c":"F1","v":0.326,"d":-0.017},{"c":"F1","v":0.26,"d":-0.026},{"c":"F1","v":0.275,"d":-0.052},{"c":"F1","v":0.3,"d":-0.059},{"c":"F1","v":0.323,"d":-0.033},{"c":"F1","v":0.361,"d":-0.029},{"c":"F1","v":0.4,"d":-0.029},
{"c":"F2","v":0.4,"d":0.023},{"c":"F2","v":0.383,"d":0.001},{"c":"F2","v":0.39,"d":-0.015},{"c":"F2","v":0.4,"d":-0.02},
{"c":"D1","v":-0.4,"d":-0.103},{"c":"D1","v":-0.372,"d":-0.08},{"c":"D1","v":-0.349,"d":-0.046},{"c":"D1","v":-0.323,"d":-0.042},{"c":"D1","v":-0.286,"d":-0.045},{"c":"D1","v":-0.243,"d":-0.052},{"c":"D1","v":-0.195,"d":-0.064},{"c":"D1","v":-0.172,"d":-0.064},{"c":"D1","v":-0.109,"d":-0.057},{"c":"D1","v":0,"d":-0.06},{"c":"D1","v":0.057,"d":-0.055},{"c":"D1","v":0.126,"d":-0.026},{"c":"D1","v":0.16,"d":-0.03},{"c":"D1","v":0.229,"d":-0.052},{"c":"D1","v":0.275,"d":-0.081},{"c":"D1","v":0.3,"d":-0.102},{"c":"D1","v":0.323,"d":-0.082},{"c":"D1","v":0.355,"d":-0.041},{"c":"D1","v":0.4,"d":-0.038},
{"c":"D3","v":-0.4,"d":-0.136},{"c":"D3","v":-0.35,"d":-0.092},{"c":"D3","v":-0.3,"d":-0.082},{"c":"D3","v":-0.25,"d":-0.094},{"c":"D3","v":-0.2,"d":-0.107},{"c":"D3","v":-0.1,"d":-0.095},{"c":"D3","v":0,"d":-0.08},{"c":"D3","v":0.1,"d":-0.078},{"c":"D3","v":0.2,"d":-0.088},{"c":"D3","v":0.25,"d":-0.112},{"c":"D3","v":0.3,"d":-0.129},{"c":"D3","v":0.35,"d":-0.097},{"c":"D3","v":0.4,"d":-0.062},
{"c":"D4","v":-0.4,"d":-0.15},{"c":"D4","v":-0.35,"d":-0.104},{"c":"D4","v":-0.3,"d":-0.099},{"c":"D4","v":-0.25,"d":-0.11},{"c":"D4","v":-0.2,"d":-0.127},{"c":"D4","v":-0.1,"d":-0.11},{"c":"D4","v":0,"d":-0.092},{"c":"D4","v":0.1,"d":-0.096},{"c":"D4","v":0.2,"d":-0.105},{"c":"D4","v":0.25,"d":-0.128},{"c":"D4","v":0.3,"d":-0.143},{"c":"D4","v":0.35,"d":-0.112},{"c":"D4","v":0.4,"d":-0.072},
{"c":"D5","v":-0.4,"d":-0.165},{"c":"D5","v":-0.35,"d":-0.118},{"c":"D5","v":-0.3,"d":-0.118},{"c":"D5","v":-0.25,"d":-0.129},{"c":"D5","v":-0.2,"d":-0.152},{"c":"D5","v":-0.1,"d":-0.126},{"c":"D5","v":0,"d":-0.102},{"c":"D5","v":0.1,"d":-0.117},{"c":"D5","v":0.2,"d":-0.125},{"c":"D5","v":0.25,"d":-0.142},{"c":"D5","v":0.3,"d":-0.157},{"c":"D5","v":0.35,"d":-0.128},{"c":"D5","v":0.4,"d":-0.083},
{"c":"D6","v":-0.4,"d":-0.171},{"c":"D6","v":-0.35,"d":-0.135},{"c":"D6","v":-0.3,"d":-0.138},{"c":"D6","v":-0.25,"d":-0.154},{"c":"D6","v":-0.2,"d":-0.182},{"c":"D6","v":-0.1,"d":-0.138},{"c":"D6","v":0,"d":-0.118},{"c":"D6","v":0.1,"d":-0.14},{"c":"D6","v":0.2,"d":-0.148},{"c":"D6","v":0.25,"d":-0.158},{"c":"D6","v":0.3,"d":-0.17},{"c":"D6","v":0.35,"d":-0.146},{"c":"D6","v":0.4,"d":-0.097},
{"c":"E1","v":-0.4,"d":-0.188},{"c":"E1","v":-0.32,"d":-0.171},{"c":"E1","v":-0.298,"d":-0.176},{"c":"E1","v":-0.275,"d":-0.189},{"c":"E1","v":-0.261,"d":-0.2},
{"c":"E2","v":-0.4,"d":-0.196},{"c":"E2","v":-0.32,"d":-0.186},{"c":"E2","v":-0.3,"d":-0.19},{"c":"E2","v":-0.286,"d":-0.2},
{"c":"A1","v":-0.17,"d":-0.2},{"c":"A1","v":-0.13,"d":-0.172},{"c":"A1","v":-0.08,"d":-0.156},{"c":"A1","v":-0.03,"d":-0.15},{"c":"A1","v":0,"d":-0.15},{"c":"A1","v":0.04,"d":-0.155},{"c":"A1","v":0.08,"d":-0.168},{"c":"A1","v":0.11,"d":-0.183},{"c":"A1","v":0.137,"d":-0.2},
{"c":"A2","v":-0.15,"d":-0.2},{"c":"A2","v":-0.115,"d":-0.18},{"c":"A2","v":-0.07,"d":-0.166},{"c":"A2","v":0,"d":-0.164},{"c":"A2","v":0.035,"d":-0.17},{"c":"A2","v":0.07,"d":-0.184},{"c":"A2","v":0.095,"d":-0.2},
{"c":"A3","v":-0.135,"d":-0.2},{"c":"A3","v":-0.1,"d":-0.186},{"c":"A3","v":-0.06,"d":-0.176},{"c":"A3","v":0,"d":-0.174},{"c":"A3","v":0.03,"d":-0.18},{"c":"A3","v":0.055,"d":-0.19},{"c":"A3","v":0.07,"d":-0.2},
{"c":"A4","v":-0.03,"d":-0.2},{"c":"A4","v":-0.015,"d":-0.186},{"c":"A4","v":0,"d":-0.182},{"c":"A4","v":0.025,"d":-0.188},{"c":"A4","v":0.045,"d":-0.2},
{"c":"B1","v":0.137,"d":-0.2},{"c":"B1","v":0.2,"d":-0.192},{"c":"B1","v":0.275,"d":-0.196},{"c":"B1","v":0.332,"d":-0.192},{"c":"B1","v":0.366,"d":-0.183},{"c":"B1","v":0.4,"d":-0.171},
{"c":"B2","v":0.38,"d":-0.2},{"c":"B2","v":0.4,"d":-0.19}
],
"clabels":[{"label":"5800","v":-0.123,"d":-0.0835},{"label":"5700","v":0.356,"d":-0.165}],
"best":[{"v":0,"d":0}],
"pa":[{"label":"ⓐ","v":-0.378,"d":0.2}],
"bandb":[{"lo":-0.065,"hi":0.068}],
"velo":[{"dv":-0.5,"rms":0.258},{"dv":-0.4,"rms":0.2255},{"dv":-0.3,"rms":0.182},{"dv":-0.2,"rms":0.1455},{"dv":-0.1,"rms":0.121},{"dv":0,"rms":0.112},{"dv":0.1,"rms":0.1255},{"dv":0.2,"rms":0.154},{"dv":0.3,"rms":0.1855},{"dv":0.4,"rms":0.22},{"dv":0.5,"rms":0.257}],
"pb":[{"label":"ⓑ","v":-1.096,"r":0.287}],
"bandc":[{"lo":-0.32,"hi":0.70}],
"depth":[{"dz":-1.2,"rms":0.120},{"dz":-1.1,"rms":0.118},{"dz":-1.0,"rms":0.117},{"dz":-0.9,"rms":0.116},{"dz":-0.8,"rms":0.114},{"dz":-0.7,"rms":0.113},{"dz":-0.6,"rms":0.113},{"dz":-0.5,"rms":0.111},{"dz":-0.4,"rms":0.110},{"dz":-0.3,"rms":0.110},{"dz":-0.2,"rms":0.112},{"dz":-0.1,"rms":0.110},{"dz":0,"rms":0.112},{"dz":0.1,"rms":0.110},{"dz":0.2,"rms":0.111},{"dz":0.3,"rms":0.111},{"dz":0.4,"rms":0.115},{"dz":0.5,"rms":0.120},{"dz":0.6,"rms":0.118},{"dz":0.7,"rms":0.115},{"dz":0.8,"rms":0.120},{"dz":0.9,"rms":0.121},{"dz":1.0,"rms":0.121},{"dz":1.1,"rms":0.125},{"dz":1.2,"rms":0.124}],
"pc":[{"label":"ⓒ","v":-1.09,"r":0.1277}]
},
"hconcat":[
{"vconcat":[
{"width":484,"height":14,
"title":{"text":"DYP3","anchor":"start","frame":"group","font":"DejaVu Sans","fontSize":40,"fontWeight":"bold","color":"black","dx":-84,"offset":4},
"data":{"name":"cbar"},
"layer":[
{"mark":{"type":"rect","fill":{"gradient":"linear","x1":0,"x2":1,"y1":0,"y2":0,"stops":[{"offset":0,"color":"#0000ff"},{"offset":0.5,"color":"#ffffff"},{"offset":1,"color":"#ff0000"}]}},
"encoding":{"x":{"field":"lo","type":"quantitative","scale":{"domain":[0.10,0.18],"nice":false,"zero":false},"axis":{"values":[0.10,0.11,0.12,0.13,0.14,0.15,0.16,0.17,0.18],"format":".2f","title":"RMS−Error","titlePadding":10}},"x2":{"field":"hi"}}},
{"mark":{"type":"text","align":"left","baseline":"middle","dx":5,"fontSize":18,"font":"Liberation Sans","color":"black"},
"encoding":{"x":{"field":"hi","type":"quantitative","axis":{"values":[0.10,0.11,0.12,0.13,0.14,0.15,0.16,0.17,0.18],"format":".2f","title":"RMS−Error","titlePadding":10}},"text":{"field":"unit"}}}
]},
{"width":480,"height":480,
"layer":[
{"data":{"name":"grid"},"mark":{"type":"rect","width":31,"height":16,"clip":true},
"encoding":{
"x":{"field":"v","type":"quantitative","scale":{"domain":[-0.4,0.4],"nice":false,"zero":false},"axis":{"values":[-0.4,-0.3,-0.2,-0.1,0,0.1,0.2,0.3,0.4],"format":".1f","title":"Velocity perturbation (km/s)","titlePadding":8}},
"y":{"field":"d","type":"quantitative","scale":{"domain":[-0.2,0.2],"nice":false,"zero":false},"axis":{"values":[-0.2,-0.15,-0.1,-0.05,0,0.05,0.1,0.15,0.2],"format":".2f","title":"Depth perturbation (km)","titlePadding":10}},
"color":{"field":"rms","type":"quantitative","scale":{"domain":[0.10,0.14,0.18],"range":["#0000ff","#ffffff","#ff0000"],"interpolate":"rgb"},"legend":null}}},
{"data":{"name":"cminor"},"mark":{"type":"line","color":"black","strokeWidth":1,"strokeDash":[6,4],"clip":true},
"encoding":{
"x":{"field":"v","type":"quantitative","axis":{"orient":"top","labels":false,"title":null,"values":[-0.4,-0.3,-0.2,-0.1,0,0.1,0.2,0.3,0.4]}},
"y":{"field":"d","type":"quantitative","axis":{"orient":"right","labels":false,"title":null,"values":[-0.2,-0.15,-0.1,-0.05,0,0.05,0.1,0.15,0.2]}},
"detail":{"field":"c"},"order":{"value":null}}},
{"data":{"name":"cmajor"},"mark":{"type":"line","color":"black","strokeWidth":1.1,"clip":true},
"encoding":{"x":{"field":"v","type":"quantitative","axis":null},"y":{"field":"d","type":"quantitative","axis":null},"detail":{"field":"c"},"order":{"value":null}}},
{"data":{"name":"clabels"},"mark":{"type":"text","fontSize":14,"font":"Liberation Sans","color":"black"},
"encoding":{"x":{"field":"v","type":"quantitative","axis":null},"y":{"field":"d","type":"quantitative","axis":null},"text":{"field":"label"},
"angle":{"field":"label","type":"nominal","scale":{"domain":["5800","5700"],"range":[357,325]},"legend":null}}},
{"data":{"name":"best"},"mark":{"type":"point","shape":"M-1,-1L1,1M1,-1L-1,1","size":650,"strokeWidth":4,"color":"black","filled":false,"opacity":1},
"encoding":{"x":{"field":"v","type":"quantitative","axis":null},"y":{"field":"d","type":"quantitative","axis":null}}},
{"data":{"name":"pa"},"mark":{"type":"text","font":"DejaVu Sans","fontSize":22,"dy":-15,"color":"black"},
"encoding":{"x":{"field":"v","type":"quantitative","axis":null},"y":{"field":"d","type":"quantitative","axis":null},"text":{"field":"label"}}}
],
"resolve":{"axis":{"x":"independent","y":"independent"}}}
],"spacing":84,"bounds":"flush"},
{"vconcat":[
{"width":445,"height":268,
"layer":[
{"data":{"name":"bandb"},"mark":{"type":"rect","color":"#b3b3b3"},
"encoding":{"x":{"field":"lo","type":"quantitative","scale":{"domain":[-1.2,1.2],"nice":false,"zero":false},
"axis":{"orient":"top","values":[-1.2,-1.1,-1.0,-0.9,-0.8,-0.7,-0.6,-0.5,-0.4,-0.3,-0.2,-0.1,0,0.1,0.2,0.3,0.4,0.5,0.6,0.7,0.8,0.9,1.0,1.1,1.2],
"labelExpr":"abs(datum.value*2-round(datum.value*2))<0.001 ? format(datum.value,'.1f') : ''",
"tickSize":{"condition":{"test":"abs(datum.value*2-round(datum.value*2))<0.001","value":8},"value":4},
"title":"Velocity perturbation (km/s)","titlePadding":4}},"x2":{"field":"hi"}}},
{"data":{"name":"velo"},"mark":{"type":"point","shape":"M-1,-1L1,1M1,-1L-1,1","size":110,"strokeWidth":1.2,"color":"black","filled":false,"opacity":1,"clip":true},
"encoding":{"x":{"field":"dv","type":"quantitative",
"axis":{"orient":"bottom","labels":false,"title":null,"values":[-1.2,-1.1,-1.0,-0.9,-0.8,-0.7,-0.6,-0.5,-0.4,-0.3,-0.2,-0.1,0,0.1,0.2,0.3,0.4,0.5,0.6,0.7,0.8,0.9,1.0,1.1,1.2],
"tickSize":{"condition":{"test":"abs(datum.value*2-round(datum.value*2))<0.001","value":8},"value":4}}},
"y":{"field":"rms","type":"quantitative","scale":{"domain":[0.10,0.30],"nice":false,"zero":false},
"axis":{"orient":"right","values":[0.10,0.15,0.20,0.25,0.30],"format":".2f","title":"RMS−error (s)","titleAngle":270,"titleBaseline":"top","titlePadding":10}}}},
{"data":{"name":"pb"},"mark":{"type":"text","font":"DejaVu Sans","fontSize":22,"color":"black"},
"encoding":{"x":{"field":"v","type":"quantitative","axis":null},"y":{"field":"r","type":"quantitative","axis":{"orient":"left","labels":false,"title":null,"values":[0.10,0.15,0.20,0.25,0.30]}},"text":{"field":"label"}}}
],
"resolve":{"axis":{"x":"independent","y":"independent"}}},
{"width":445,"height":257,
"layer":[
{"data":{"name":"bandc"},"mark":{"type":"rect","color":"#b3b3b3"},
"encoding":{"x":{"field":"lo","type":"quantitative","scale":{"domain":[-1.2,1.2],"nice":false,"zero":false},
"axis":{"orient":"bottom","values":[-1.2,-1.1,-1.0,-0.9,-0.8,-0.7,-0.6,-0.5,-0.4,-0.3,-0.2,-0.1,0,0.1,0.2,0.3,0.4,0.5,0.6,0.7,0.8,0.9,1.0,1.1,1.2],
"labelExpr":"abs(datum.value*2-round(datum.value*2))<0.001 ? format(datum.value,'.1f') : ''",
"tickSize":{"condition":{"test":"abs(datum.value*2-round(datum.value*2))<0.001","value":8},"value":4},
"title":"Depth perturbation (km)","titlePadding":6}},"x2":{"field":"hi"}}},
{"data":{"name":"depth"},"mark":{"type":"point","shape":"M-1,-1L1,1M1,-1L-1,1","size":110,"strokeWidth":1.2,"color":"black","filled":false,"opacity":1,"clip":true},
"encoding":{"x":{"field":"dz","type":"quantitative",
"axis":{"orient":"top","labels":false,"title":null,"values":[-1.2,-1.1,-1.0,-0.9,-0.8,-0.7,-0.6,-0.5,-0.4,-0.3,-0.2,-0.1,0,0.1,0.2,0.3,0.4,0.5,0.6,0.7,0.8,0.9,1.0,1.1,1.2],
"tickSize":{"condition":{"test":"abs(datum.value*2-round(datum.value*2))<0.001","value":8},"value":4}}},
"y":{"field":"rms","type":"quantitative","scale":{"domain":[0.10,0.13],"nice":false,"zero":false},
"axis":{"orient":"right","values":[0.10,0.11,0.12,0.13],"format":".2f","title":"RMS−error (s)","titleAngle":270,"titleBaseline":"top","titlePadding":10}}}},
{"data":{"name":"pc"},"mark":{"type":"text","font":"DejaVu Sans","fontSize":22,"color":"black"},
"encoding":{"x":{"field":"v","type":"quantitative","axis":null},"y":{"field":"r","type":"quantitative","axis":{"orient":"left","labels":false,"title":null,"values":[0.10,0.11,0.12,0.13]}},"text":{"field":"label"}}}
],
"resolve":{"axis":{"x":"independent","y":"independent"}}}
],"spacing":54,"bounds":"flush"}
],
"spacing":8
}
